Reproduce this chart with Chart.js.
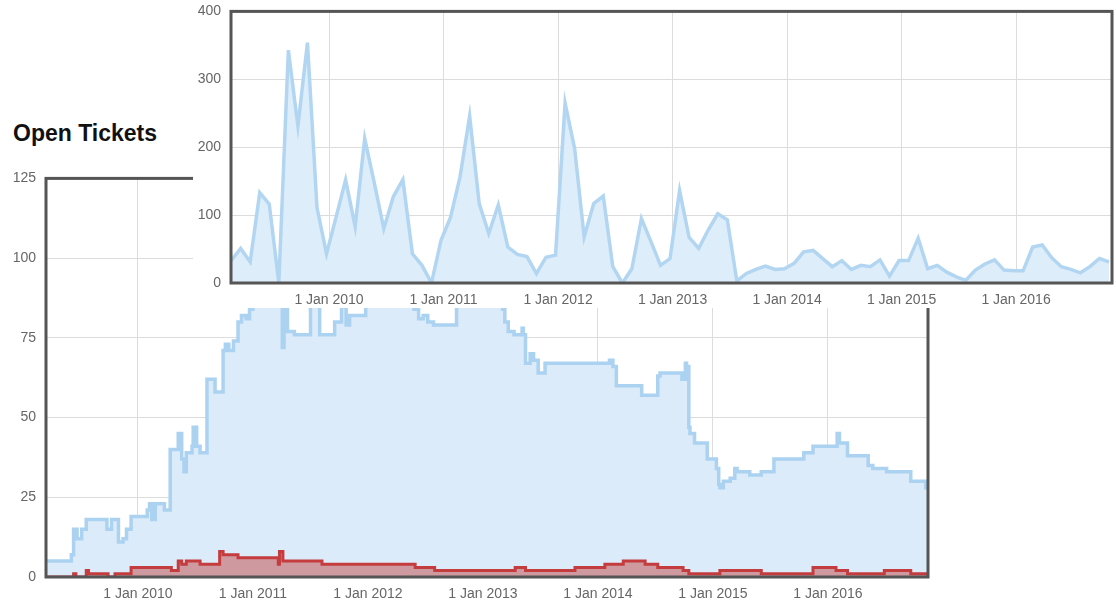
<!DOCTYPE html>
<html>
<head>
<meta charset="utf-8">
<script src="https://cdn.jsdelivr.net/npm/chart.js@4.4.1/dist/chart.umd.min.js"></script>
<style>
  html, body { margin: 0; padding: 0; background: #fff; }
  #page { position: relative; width: 1116px; height: 601px; overflow: hidden; }
  #title { position: absolute; left: 13px; top: 120px; font: bold 23px "Liberation Sans", Arial, sans-serif; color: #111; }
  #openWrap { position: absolute; left: 0; top: 160px; width: 940px; height: 441px; }
  #newWrap { position: absolute; left: 193px; top: 0; width: 923px; height: 308px; background: #fff; overflow: hidden; }
  #newChart { position: absolute; left: 0; top: -7px; }
</style>
</head>
<body>
<div id="page">
  <div id="title">Open Tickets</div>
  <div id="openWrap"><canvas id="openChart" width="940" height="441"></canvas></div>
  <div id="newWrap"><canvas id="newChart" width="923" height="315"></canvas></div>
</div>
<script>
// x axis labels (years, 1 Jan of each)
const tickYears = [2010, 2011, 2012, 2013, 2014, 2015, 2016];
const openTicks = [0, 25, 50, 75, 100, 125];
const newTicks = [0, 100, 200, 300, 400];

// open tickets: step changes (decimal year -> count)
const openDates = [2009.20, 2009.42, 2009.44, 2009.47, 2009.51, 2009.55, 2009.73, 2009.77, 2009.83, 2009.87,
  2009.90, 2009.94, 2010.08, 2010.10, 2010.12, 2010.15, 2010.23, 2010.28, 2010.35, 2010.38,
  2010.40, 2010.42, 2010.47, 2010.48, 2010.51, 2010.54, 2010.60, 2010.67, 2010.74, 2010.76,
  2010.79, 2010.83, 2010.87, 2010.90, 2010.94, 2010.97, 2011.00, 2011.255, 2011.27, 2011.30,
  2011.36, 2011.50, 2011.58, 2011.71, 2011.77, 2011.81, 2011.84, 2011.98, 2012.20, 2012.40,
  2012.44, 2012.48, 2012.52, 2012.57, 2012.77, 2013.00, 2013.17, 2013.19, 2013.22, 2013.27,
  2013.34, 2013.35, 2013.37, 2013.41, 2013.44, 2013.48, 2013.54, 2014.10, 2014.13, 2014.16,
  2014.38, 2014.52, 2014.54, 2014.73, 2014.76, 2014.77, 2014.79, 2014.80, 2014.84, 2014.95,
  2015.03, 2015.05, 2015.06, 2015.09, 2015.15, 2015.19, 2015.21, 2015.32, 2015.42, 2015.53,
  2015.79, 2015.87, 2016.06, 2016.08, 2016.10, 2016.17, 2016.35, 2016.39, 2016.51, 2016.72,
  2016.85, 2016.87];
const openCounts = [5, 7, 15, 12, 15, 18, 15, 18, 11, 12,
  15, 19, 21, 23, 18, 23, 21, 40, 45, 37,
  33, 39, 41, 47, 41, 39, 62, 58, 71, 73,
  71, 74, 80, 82, 81, 84, 88, 72, 90, 77,
  76, 88, 76, 80, 88, 79, 82, 90, 95, 84,
  81, 82, 80, 79, 88, 92, 84, 80, 77, 76,
  78, 76, 67, 70, 68, 64, 67, 68, 66, 60,
  57, 63, 64, 62, 67, 66, 47, 45, 42, 37,
  34, 29, 28, 30, 31, 34, 33, 32, 33, 37,
  39, 41, 41, 45, 42, 38, 35, 34, 33, 30,
  28, 30];

// critical open tickets
const critDates = [2009.20, 2009.44, 2009.46, 2009.55, 2009.57, 2009.74, 2009.80, 2009.94, 2009.97, 2010.08,
  2010.29, 2010.35, 2010.38, 2010.42, 2010.54, 2010.71, 2010.74, 2010.87, 2011.22, 2011.23,
  2011.26, 2011.60, 2012.41, 2012.58, 2013.28, 2013.37, 2013.80, 2014.06, 2014.22, 2014.41,
  2014.52, 2014.74, 2014.79, 2015.06, 2015.42, 2015.87, 2016.07, 2016.17, 2016.49, 2016.72,
  2016.87];
const critCounts = [0, 1, 0, 2, 1, 0, 1, 3, 3, 3,
  2, 5, 4, 5, 4, 8, 7, 6, 4, 8,
  5, 4, 3, 2, 3, 2, 3, 4, 5, 4,
  3, 2, 1, 2, 1, 3, 2, 1, 2, 1,
  1];

// new tickets per month, first month ends late Feb 2009
const newFirstMonth = 2009.145;
const newPerMonth = [33, 51, 31, 133, 116, 0, 343, 231, 354, 111,
  43, 97, 152, 83, 213, 148, 80, 127, 152, 43,
  26, 0, 63, 97, 157, 246, 117, 73, 115, 53,
  42, 39, 14, 38, 41, 265, 198, 68, 117, 128,
  24, 0, 21, 95, 61, 26, 36, 136, 67, 51,
  78, 102, 93, 3, 14, 20, 25, 20, 21, 29,
  46, 48, 36, 24, 33, 20, 26, 24, 34, 10,
  33, 33, 66, 21, 26, 16, 9, 4, 19, 28,
  34, 19, 18, 18, 53, 56, 37, 24, 20, 15,
  24, 36, 31];

Chart.defaults.font.family = '"Liberation Sans", Arial, sans-serif';
Chart.defaults.font.size = 14;
Chart.defaults.color = '#666';

// dark box round the plot area
const framePlugin = {
  id: 'frame',
  afterDraw(chart) {
    const { ctx, chartArea: a } = chart;
    ctx.save();
    ctx.strokeStyle = '#555';
    ctx.lineWidth = 3;
    ctx.strokeRect(a.left, a.top, a.right - a.left, a.bottom - a.top);
    ctx.restore();
  }
};

function toPoints(xs, ys) {
  return xs.map((x, i) => ({ x: x, y: ys[i] }));
}

function xScale(min, max, h) {
  return {
    type: 'linear',
    min: min,
    max: max,
    afterBuildTicks: s => { s.ticks = tickYears.map(v => ({ value: v })); },
    afterFit: s => { s.height = h; },
    ticks: { autoSkip: false, maxRotation: 0, padding: 9, callback: v => '1 Jan ' + v },
    grid: { color: '#dcdcdc', drawTicks: false },
    border: { display: false }
  };
}

function yScale(max, ticks, w) {
  return {
    min: 0,
    max: max,
    afterBuildTicks: s => { s.ticks = ticks.map(v => ({ value: v })); },
    afterFit: s => { s.width = w; },
    ticks: { padding: 10 },
    grid: { color: '#dcdcdc', drawTicks: false },
    border: { display: false }
  };
}

new Chart(document.getElementById('openChart'), {
  type: 'line',
  data: {
    datasets: [
      {
        label: 'Critical',
        data: toPoints(critDates, critCounts),
        stepped: true,
        borderColor: '#c43c3e',
        backgroundColor: 'rgb(207, 154, 159)',
        borderWidth: 3,
        fill: 'origin',
        pointRadius: 0
      },
      {
        label: 'Open',
        data: toPoints(openDates, openCounts),
        stepped: true,
        borderColor: '#abd2f0',
        backgroundColor: '#dcebf9',
        borderWidth: 3.5,
        fill: 'origin',
        pointRadius: 0
      }
    ]
  },
  options: {
    responsive: false,
    animation: false,
    layout: { padding: { top: 17, right: 12, left: 0, bottom: 0 } },
    plugins: { legend: { display: false }, tooltip: { enabled: false } },
    scales: {
      x: xScale(2009.2, 2016.87, 24),
      y: yScale(125, openTicks, 46)
    }
  },
  plugins: [framePlugin]
});

new Chart(document.getElementById('newChart'), {
  type: 'line',
  data: {
    datasets: [{
      label: 'New',
      data: newPerMonth.map((v, i) => ({ x: newFirstMonth + i / 12, y: v })),
      borderColor: '#b2d6f2',
      backgroundColor: '#deedfa',
      borderWidth: 3.5,
      fill: 'origin',
      tension: 0,
      pointRadius: 0
    }]
  },
  options: {
    responsive: false,
    animation: false,
    layout: { padding: { top: 0, right: 4, left: 0, bottom: 0 } },
    plugins: { legend: { display: false }, tooltip: { enabled: false } },
    scales: {
      x: xScale(2009.144, 2016.838, 25),
      y: yScale(400, newTicks, 38)
    }
  },
  plugins: [framePlugin]
});
</script>
</body>
</html>
